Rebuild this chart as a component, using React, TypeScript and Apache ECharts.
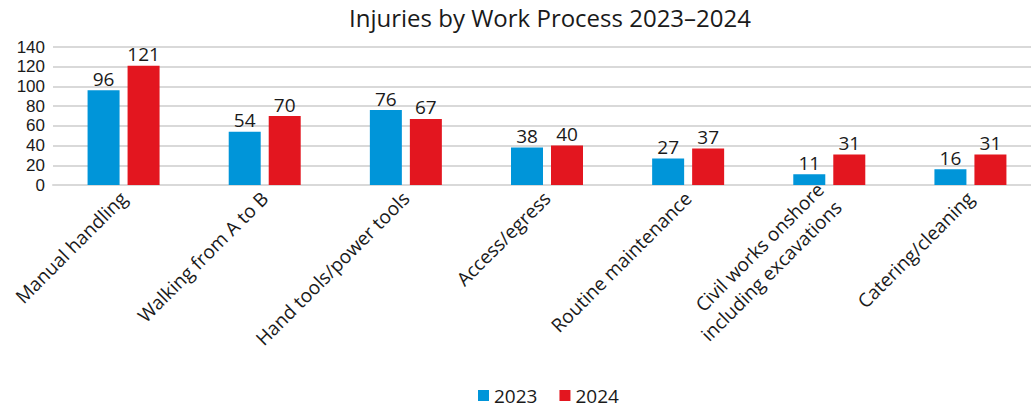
import React, { useEffect, useRef } from "react";
import * as echarts from "echarts";

const categories = [
  "Manual handling",
  "Walking from A to B",
  "Hand tools/power tools",
  "Access/egress",
  "Routine maintenance",
  "Civil works onshore\nincluding excavations",
  "Catering/cleaning",
];
const values2023 = [96, 54, 76, 38, 27, 11, 16];
const values2024 = [121, 70, 67, 40, 37, 31, 31];
const seriesNames = ["2023", "2024"];
const titleText = "Injuries by Work Process 2023–2024";

const FONT = "'Open Sans', 'Noto Sans', sans-serif";
const TEXT = "#1a1a1a";

export default function App() {
  const ref = useRef<HTMLDivElement>(null);
  useEffect(() => {
    document.body.style.margin = "0";
    const chart = echarts.init(ref.current!, null, { renderer: "svg" });
    chart.setOption({
      animation: false,
      textStyle: { fontFamily: FONT, color: TEXT },
      title: {
        text: titleText,
        left: 545,
        textAlign: "center",
        top: 0,
        textStyle: { fontFamily: FONT, fontSize: 24, fontWeight: "normal", color: TEXT },
      },
      legend: {
        data: seriesNames,
        bottom: -3,
        left: 473,
        itemWidth: 11,
        itemHeight: 11,
        itemGap: 22,
        icon: "rect",
        textStyle: { fontFamily: FONT, fontSize: 19, color: TEXT },
      },
      grid: { left: 53, right: 0, top: 47, bottom: 222, containLabel: false },
      xAxis: {
        type: "category",
        data: categories,
        axisLine: { show: true, lineStyle: { color: "#d9d9d9", width: 2 } },
        axisTick: { show: false },
        axisLabel: {
          rotate: 45,
          interval: 0,
          margin: 10,
          fontFamily: FONT,
          fontSize: 19,
          color: TEXT,
          lineHeight: 25,
        },
      },
      yAxis: {
        type: "value",
        min: 0,
        max: 140,
        interval: 20,
        axisLine: { show: false },
        axisTick: { show: false },
        axisLabel: {
          margin: 8,
          fontFamily: "'Liberation Sans', Arial, sans-serif",
          fontSize: 17,
          color: TEXT,
        },
        splitLine: { lineStyle: { color: "#d9d9d9", width: 2 } },
      },
      series: [
        {
          name: seriesNames[0],
          type: "bar",
          data: values2023,
          barWidth: 32,
          barGap: "25%",
          itemStyle: { color: "#0095D9" },
          label: { show: true, position: "top", distance: 2, fontFamily: FONT, fontSize: 19, color: TEXT },
        },
        {
          name: seriesNames[1],
          type: "bar",
          data: values2024,
          barWidth: 32,
          barGap: "25%",
          itemStyle: { color: "#E3161F" },
          label: { show: true, position: "top", distance: 2, fontFamily: FONT, fontSize: 19, color: TEXT },
        },
      ],
    });
    return () => chart.dispose();
  }, []);
  return (
    <div style={{ width: 1031, height: 407, overflow: "hidden", position: "relative" }}>
      <div ref={ref} style={{ width: 1041, height: 407 }} />
    </div>
  );
}
